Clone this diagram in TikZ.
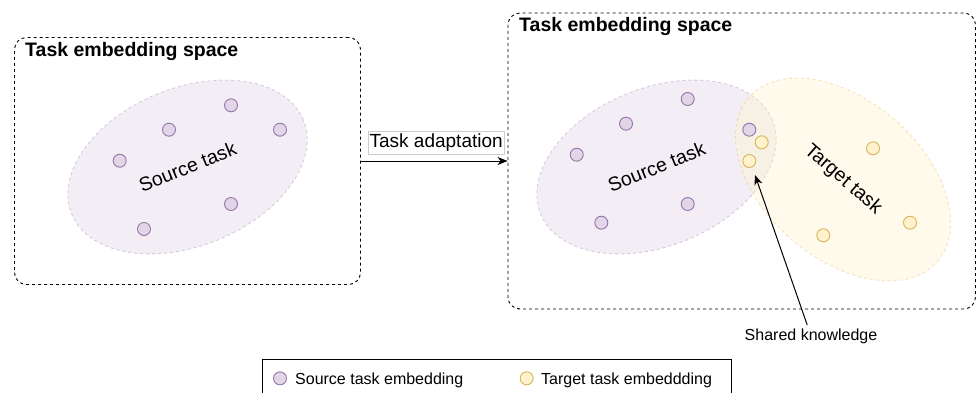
\documentclass[tikz,border=0pt]{standalone}
\usepackage{fontspec}
\setmainfont{Liberation Sans}
\usetikzlibrary{arrows.meta,shapes.geometric}
\definecolor{SourceFill}{HTML}{E1D5E7}
\definecolor{SourceLine}{HTML}{9673A6}
\definecolor{TargetFill}{HTML}{FFF2CC}
\definecolor{TargetLine}{HTML}{D6B656}

\tikzset{
  spacebox/.style={draw, line width=0.9pt, dash pattern=on 3pt off 3pt,
    rounded corners=12pt, inner sep=0},
  spacetitle/.style={anchor=base west, inner sep=0,
    font=\fontsize{19.5}{23}\selectfont\bfseries},
  taskarea/.style={ellipse, minimum width=250pt, minimum height=158pt, inner sep=0,
    line width=0.9pt, dash pattern=on 3pt off 3pt, fill opacity=0.4,
    draw opacity=0.35, text opacity=1, font=\fontsize{19.5}{23}\selectfont},
  sourcedot/.style={circle, draw=SourceLine, fill=SourceFill, line width=0.9pt,
    minimum size=13pt, inner sep=0},
  targetdot/.style={circle, draw=TargetLine, fill=TargetFill, line width=0.9pt,
    minimum size=13pt, inner sep=0},
  smalltext/.style={font=\fontsize{16}{19}\selectfont},
  link/.style={line width=1pt, -{Stealth[length=10pt,width=8pt,inset=3pt]}},
}

\begin{document}
\begin{tikzpicture}[x=1pt, y=-1pt]
    \useasboundingbox (0,0) rectangle (976,392);
    \clip (0,0) rectangle (976,392);

    \coordinate (S1) at (187.5, 167);
    \coordinate (S2) at (656.5, 167);
    \coordinate (T2) at (843, 179.5);

    % Espacios de embeddings
    \node[spacebox, minimum width=346pt, minimum height=247pt] (spaceL) at (187.5, 161) {};
    \node[spacebox, minimum width=467.5pt, minimum height=296pt] (spaceR) at (741.75, 161) {};
    \node[spacetitle] (titleL) at (25, 56) {Task embedding space};
    \node[spacetitle] (titleR) at (519, 31.7) {Task embedding space};

    \node[taskarea, fill=SourceFill, draw=SourceLine, rotate=22] (srcL) at (S1) {Source task};
    \node[taskarea, fill=SourceFill, draw=SourceLine, rotate=22] (srcR) at (S2) {Source task};
    \node[taskarea, fill=TargetFill, draw=TargetLine, rotate=-41] (tgtR) at (T2) {Target task};

    \node[sourcedot] (a1) at (231, 105.3) {};
    \node[sourcedot] (a2) at (169, 129.7) {};
    \node[sourcedot] (a3) at (280, 129.7) {};
    \node[sourcedot] (a4) at (119.7, 160.7) {};
    \node[sourcedot] (a5) at (231, 204) {};
    \node[sourcedot] (a6) at (144, 229) {};

    \node[sourcedot] (b1) at (687.7, 99) {};
    \node[sourcedot] (b2) at (626, 123.7) {};
    \node[sourcedot] (b3) at (576.7, 154.7) {};
    \node[sourcedot] (b4) at (749.3, 129.7) {};
    \node[sourcedot] (b5) at (687.7, 204) {};
    \node[sourcedot] (b6) at (601.3, 222.7) {};

    \node[targetdot] (c1) at (761.7, 142.3) {};
    \node[targetdot] (c2) at (749.3, 161) {};
    \node[targetdot] (c3) at (873, 148.3) {};
    \node[targetdot] (c4) at (910, 222.7) {};
    \node[targetdot] (c5) at (823.3, 235.3) {};

    % Adaptacion entre espacios
    \draw[link] (spaceL) -- (spaceR);
    \node[draw=black!20, line width=0.6pt, inner xsep=1.5pt, inner ysep=0,
      minimum height=22.6pt, font=\fontsize{19}{22}\selectfont] (adapt) at (436.2, 143) {Task adaptation};

    \coordinate (overlap) at (755, 175);
    \node[smalltext, anchor=base] (shared) at (811, 340) {Shared knowledge};
    \draw[link] (shared) -- (overlap);

    % Leyenda
    \draw[line width=0.9pt] (262, 359) rectangle (731, 400);
    \node[sourcedot] (keyS) at (280, 378.3) {};
    \node[smalltext, anchor=base west, inner sep=0] (keySText) at (295, 384) {Source task embedding};
    \node[targetdot] (keyT) at (526.7, 378.3) {};
    \node[smalltext, anchor=base west, inner sep=0] (keyTText) at (541, 384) {Target task embeddding};
\end{tikzpicture}
\end{document}
